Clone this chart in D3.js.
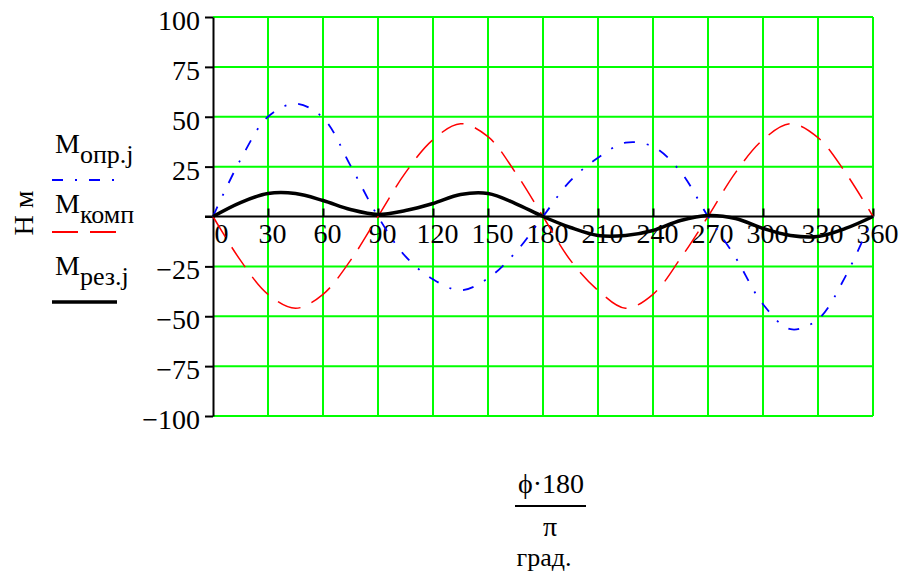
<!DOCTYPE html>
<html lang="ru">
<head>
    <meta charset="UTF-8">
    <title>M</title>
    <script src="https://d3js.org/d3.v7.min.js"></script>
    <style>
        body { margin: 0; background: #fff; }
        svg text { font-family: "Liberation Serif", "Times New Roman", serif !important; }
    </style>
</head>
<body>
<div id="main"></div>
<script>
    // углы, град.
    const phi = [0, 15, 30, 45, 60, 75, 90, 105, 120, 135, 150, 165, 180,
        195, 210, 225, 240, 255, 270, 285, 300, 315, 330, 345, 360]

    // M опр.j (синяя, штрих-пунктир)
    const Mopr = [0, 28.5, 50, 56.5, 49.5, 25.5, 0, -20, -31.5, -37, -31, -18, 0,
        18, 29.5, 37, 35, 22.5, 0, -20.5, -44, -56.5, -51.5, -30, 0]
    // M комп (красная, штрих)
    const Mkomp = [0, -22, -39, -46, -39, -22, 0, 22, 38.5, 46.5, 40, 22, 0,
        -22, -37, -46, -39, -21, 0, 22, 38.5, 46.5, 39.5, 22, 0]
    // M рез.j (чёрная)
    const Mrez = [0, 7, 11.5, 11.5, 8, 3.5, 1, 3, 6.5, 11, 11.5, 6.5, 0,
        -5.5, -9.5, -9.5, -7, -2, 0.5, -1, -6, -9.5, -10, -6, 0]

    const xTicks = [0, 30, 60, 90, 120, 150, 180, 210, 240, 270, 300, 330, 360]
    const yTicks = [-100, -75, -50, -25, 0, 25, 50, 75, 100]

    let width = 903, height = 573
    let fontSize = 28

    let svg = d3.select("#main")
        .append("svg")
        .attr("id", "svg")
        .attr("width", width)
        .attr("height", height)

    let x = d3.scaleLinear().domain([0, 360]).range([213, 873])
    let y = d3.scaleLinear().domain([-100, 100]).range([416, 17])

    // сетка
    let grid = svg.append("g")
    grid.selectAll("line.v")
        .data(xTicks.filter(d => d > 0))
        .enter()
        .append("line")
        .attr("x1", d => x(d)).attr("x2", d => x(d))
        .attr("y1", y(100)).attr("y2", y(-100))
        .attr("stroke", "#00ff00")
        .attr("stroke-width", 2)
    grid.selectAll("line.h")
        .data(yTicks.filter(d => d !== 0))
        .enter()
        .append("line")
        .attr("x1", x(0)).attr("x2", x(360))
        .attr("y1", d => y(d)).attr("y2", d => y(d))
        .attr("stroke", "#00ff00")
        .attr("stroke-width", 2)

    // ось Y
    let yAxis = d3.axisLeft(y)
        .tickValues(yTicks)
        .tickFormat(d => d < 0 ? "\u2212" + Math.abs(d) : (d === 0 ? "" : d))
        .tickSizeInner(8)
        .tickSizeOuter(0)
        .tickPadding(5)
    let gy = svg.append("g")
        .attr("transform", `translate(${x(0)},0)`)
        .call(yAxis)
    gy.select(".domain").attr("stroke", "#000").attr("stroke-width", 2)
    gy.selectAll(".tick line").attr("stroke", "#000").attr("stroke-width", 2)
    gy.selectAll(".tick text")
        .attr("font-size", fontSize)
        .attr("fill", "#000")
        .attr("dy", "0.45em")

    // нулевая линия
    svg.append("line")
        .attr("x1", x(0) - 8).attr("x2", x(360))
        .attr("y1", y(0)).attr("y2", y(0))
        .attr("stroke", "#000")
        .attr("stroke-width", 2)

    // ось X
    let xAxis = d3.axisBottom(x)
        .tickValues(xTicks)
        .tickSizeInner(-8)
        .tickSizeOuter(0)
        .tickPadding(7)
    let gx = svg.append("g")
        .attr("transform", `translate(0,${y(0)})`)
        .call(xAxis)
    gx.select(".domain").remove()
    gx.selectAll(".tick line").attr("stroke", "#000").attr("stroke-width", 2)
        .filter(d => d === 0).remove()
    gx.selectAll(".tick text")
        .attr("font-size", fontSize)
        .attr("fill", "#000")
        .attr("dx", d => d === 0 ? 8 : 4)

    // кривые
    let line = d3.line()
        .x((d, i) => x(phi[i]))
        .y(d => y(d))
        .curve(d3.curveCatmullRom)

    svg.append("path")
        .attr("d", line(Mkomp))
        .attr("fill", "none")
        .attr("stroke", "#ff0000")
        .attr("stroke-width", 1.5)
        .attr("stroke-dasharray", "24,12")

    svg.append("path")
        .attr("d", line(Mopr))
        .attr("fill", "none")
        .attr("stroke", "#0000ff")
        .attr("stroke-width", 1.8)
        .attr("stroke-dasharray", "11,12,2,12")

    svg.append("path")
        .attr("d", line(Mrez))
        .attr("fill", "none")
        .attr("stroke", "#000")
        .attr("stroke-width", 3.5)

    // легенда
    const legendItems = [
        {"sub": "опр.j", "color": "#0000ff", "dash": "11,12,2,12", "w": 2, "ty": 153, "ly": 180},
        {"sub": "комп", "color": "#ff0000", "dash": "26,12", "w": 2, "ty": 213, "ly": 232},
        {"sub": "рез.j", "color": "#000", "dash": null, "w": 3.5, "ty": 275, "ly": 302}
    ]
    let legend = svg.append("g")
    legendItems.forEach(function (d) {
        let t = legend.append("text")
            .attr("x", 55)
            .attr("y", d.ty)
            .attr("font-size", fontSize)
            .attr("fill", "#000")
        t.append("tspan").text("M")
        t.append("tspan")
            .attr("dy", 10)
            .attr("font-size", 26)
            .text(d.sub)
        legend.append("line")
            .attr("x1", 52).attr("x2", 117)
            .attr("y1", d.ly).attr("y2", d.ly)
            .attr("stroke", d.color)
            .attr("stroke-width", d.w)
            .attr("stroke-dasharray", d.dash)
    })

    // подпись оси Y
    svg.append("text")
        .attr("transform", "translate(33,213) rotate(-90)")
        .attr("text-anchor", "middle")
        .attr("font-size", fontSize)
        .attr("fill", "#000")
        .text("Н м")

    // подпись оси X
    svg.append("text")
        .attr("x", 551).attr("y", 493)
        .attr("text-anchor", "middle")
        .attr("font-size", fontSize)
        .attr("fill", "#000")
        .text("ϕ·180")
    svg.append("line")
        .attr("x1", 515).attr("x2", 586)
        .attr("y1", 506).attr("y2", 506)
        .attr("stroke", "#000")
        .attr("stroke-width", 2)
    svg.append("text")
        .attr("x", 550).attr("y", 536)
        .attr("text-anchor", "middle")
        .attr("font-size", fontSize)
        .attr("fill", "#000")
        .text("π")
    svg.append("text")
        .attr("x", 544).attr("y", 566)
        .attr("text-anchor", "middle")
        .attr("font-size", 26)
        .attr("fill", "#000")
        .text("град.")
</script>
</body>
</html>
